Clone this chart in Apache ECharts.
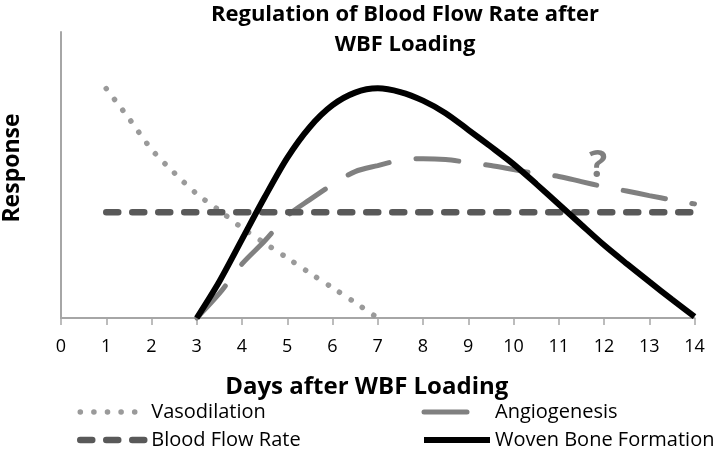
<!DOCTYPE html>
<html><head><meta charset="utf-8">
<script src="https://cdn.jsdelivr.net/npm/echarts@6/dist/echarts.min.js"></script>
<style>html,body{margin:0;padding:0;background:#fff}#c{width:720px;height:450px}</style>
</head><body><div id="c"></div>
<script>
const xTicks = [0,1,2,3,4,5,6,7,8,9,10,11,12,13,14];
const vasoDays = [1,1.5,2,2.5,3,3.5,4,4.5,5,5.5,6,6.5,7];
const vasoValues = [80.2, 69.8, 59.0, 50.8, 43.4, 37.6, 31.5, 26.2, 21.0, 15.7, 10.6, 5.4, 0];
const angioDays = [3,3.5,4,4.5,5,5.5,6,6.5,7,7.5,8,8.5,9,9.5,10,10.5,11,11.5,12,12.5,13,13.5,14];
const angioValues = [0, 8.6, 18.9, 26.9, 35.7, 41.4, 46.7, 51.2, 53.3, 55.2, 55.7, 55.4, 54.4, 53.3, 51.9, 50.5, 49.5, 47.7, 45.9, 44.4, 42.8, 41.3, 39.9];
const flowDays = [1,2,3,4,5,6,7,8,9,10,11,12,13,14];
const flowValues = [37,37,37,37,37,37,37,37,37,37,37,37,37,37];
const boneDays = [3,3.5,4,4.5,5,5.5,6,6.5,7,7.5,8,8.5,9,9.5,10,10.5,11,11.5,12,12.5,13,13.5,14];
const boneValues = [0, 12.8, 27.5, 42.2, 56.0, 66.8, 74.4, 78.8, 80.3, 79.0, 76.0, 71.6, 65.8, 59.9, 53.8, 46.9, 39.8, 32.6, 25.5, 19.0, 12.7, 6.5, 0.5];
const questionMark = {day: 11.87, value: 53, text: '?'};

const pairs = (xs, ys) => xs.map((x, i) => [x, ys[i]]);
const FONT = '"Open Sans", "Noto Sans", sans-serif';

const styles = {
  'Vasodilation': {color: '#9a9a9a', width: 5.5, type: [0.1, 13.5], cap: 'round'},
  'Angiogenesis': {color: '#808080', width: 5, type: [43, 27], cap: 'round'},
  'Blood Flow Rate': {color: '#595959', width: 6.5, type: [12, 14], cap: 'round'},
  'Woven Bone Formation': {color: '#000000', width: 6, type: 'solid', cap: 'butt'}
};
const legendItem = name => ({name: name, lineStyle: Object.assign({}, styles[name])});
const legendBase = {
  orient: 'vertical', top: 402, padding: 0,
  itemWidth: 66, itemHeight: 14, itemGap: 8,
  itemStyle: {color: 'rgba(0,0,0,0)', borderColor: 'rgba(0,0,0,0)', borderWidth: 0, opacity: 0},
  lineStyle: {width: 5.5},
  textStyle: {fontFamily: FONT, fontSize: 20, color: '#000', lineHeight: 20}
};

const chart = echarts.init(document.getElementById('c'), null, {renderer: 'canvas'});
chart.setOption({
  animation: false,
  backgroundColor: '#fff',
  textStyle: {fontFamily: FONT},
  title: {
    text: 'Regulation of Blood Flow Rate after\nWBF Loading',
    left: 400, top: -5, textAlign: 'center',
    textStyle: {fontFamily: FONT, fontWeight: 'bold', fontSize: 22, lineHeight: 30, color: '#000'}
  },
  grid: {left: 61, right: 25.5, top: 32, bottom: 132},
  xAxis: {
    type: 'value', min: 0, max: 14, interval: 1,
    name: 'Days after WBF Loading', nameLocation: 'middle', nameGap: 57,
    nameTextStyle: {fontFamily: FONT, fontWeight: 'bold', fontSize: 24, color: '#000', padding: [0, 22, 0, 0]},
    axisLine: {show: true, lineStyle: {color: '#a6a6a6', width: 2}},
    axisTick: {show: true, length: 7, lineStyle: {color: '#a6a6a6', width: 1.5}},
    axisLabel: {fontFamily: FONT, fontSize: 18, color: '#000', margin: 20,
      formatter: v => xTicks.includes(v) ? String(v) : ''},
    splitLine: {show: false}
  },
  yAxis: {
    type: 'value', min: 0, max: 100,
    axisLine: {show: true, lineStyle: {color: '#a6a6a6', width: 2}},
    axisTick: {show: false}, axisLabel: {show: false}, splitLine: {show: false}
  },
  legend: [
    Object.assign({data: ['Vasodilation', 'Blood Flow Rate'].map(legendItem), left: 77}, legendBase),
    Object.assign({data: ['Angiogenesis', 'Woven Bone Formation'].map(legendItem), left: 421}, legendBase)
  ],
  graphic: [{
    type: 'text', x: 12, y: 168, rotation: Math.PI / 2,
    style: {text: 'Response', font: 'bold 23px ' + FONT, fill: '#000', align: 'center', verticalAlign: 'middle'}
  }],
  series: [
    {name: 'Vasodilation', type: 'line', data: pairs(vasoDays, vasoValues), smooth: 0.3,
     symbol: 'none', clip: false, color: styles['Vasodilation'].color,
     lineStyle: styles['Vasodilation']},
    {name: 'Angiogenesis', type: 'line', data: pairs(angioDays, angioValues), smooth: 0.3,
     symbol: 'none', clip: false, color: styles['Angiogenesis'].color,
     lineStyle: styles['Angiogenesis'],
     markPoint: {symbol: 'circle', symbolSize: 0, silent: true,
       label: {show: true, position: 'inside', formatter: questionMark.text, fontFamily: FONT,
               fontSize: 38, fontWeight: 'bold', color: '#7f7f7f'},
       data: [{coord: [questionMark.day, questionMark.value]}]}},
    {name: 'Blood Flow Rate', type: 'line', data: pairs(flowDays, flowValues),
     symbol: 'none', clip: false, color: styles['Blood Flow Rate'].color,
     lineStyle: styles['Blood Flow Rate']},
    {name: 'Woven Bone Formation', type: 'line', data: pairs(boneDays, boneValues), smooth: 0.3,
     symbol: 'none', clip: false, color: styles['Woven Bone Formation'].color,
     lineStyle: styles['Woven Bone Formation']}
  ]
});
</script></body></html>
